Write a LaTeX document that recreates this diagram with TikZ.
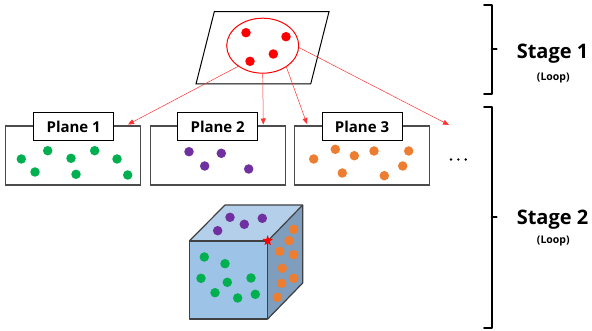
\documentclass[tikz,border=0pt]{standalone}
\usepackage{fontspec}
\setmainfont{Open Sans}
\usetikzlibrary{shapes.geometric,arrows.meta,calc}
\definecolor{dgreen}{HTML}{00B050}
\definecolor{dpurple}{HTML}{7030A0}
\definecolor{dorange}{HTML}{ED7D31}
\definecolor{cfront}{HTML}{9DC3E6}
\definecolor{ctop}{HTML}{B4CFEA}
\definecolor{cside}{HTML}{7F9DBC}
\begin{document}
\begin{tikzpicture}[x=1pt,y=-1pt,
  planebox/.style={draw=black!70,line width=1.1pt,minimum width=135pt,minimum height=59pt,inner sep=0pt},
  labelbox/.style={draw=black,line width=1pt,fill=white,minimum width=80pt,minimum height=28pt,inner sep=0pt,font=\bfseries\fontsize{15}{17}\selectfont},
  redarrow/.style={red!80,line width=0.5pt,-{Triangle[length=6pt,width=5pt]}},
  dot/.style={circle,inner sep=0pt,minimum size=9.5pt},
  gdot/.style={dot,fill=dgreen},
  pdot/.style={dot,fill=dpurple},
  odot/.style={dot,fill=dorange},
  rdot/.style={dot,fill=red},
  bracepath/.style={line width=2pt,line cap=round,line join=round},
  stagetext/.style={font=\bfseries\fontsize{20}{22}\selectfont},
  looptext/.style={font=\bfseries\fontsize{10.5}{12}\selectfont},
  cubeline/.style={draw=black!75,line width=1.2pt,line join=round}]
\useasboundingbox (0,0) rectangle (592,331);

% top plane
\draw[black,line width=1pt] (214.3,11.7) -- (329,11.7) -- (310.7,84) -- (196,84) -- cycle;
\node[draw=red,line width=1pt,ellipse,minimum width=72pt,minimum height=55pt,inner sep=0pt] (ell) at (262.7,45.7) {};
\node[rdot] (r1) at (246,32.7) {};
\node[rdot] (r2) at (286,36.7) {};
\node[rdot] (r3) at (273.3,54) {};
\node[rdot] (r4) at (250,61.3) {};

% plane boxes
\node[planebox] (p1) at (73.3,155.5) {};
\node[planebox] (p2) at (217.7,155.5) {};
\node[planebox] (p3) at (362,155.5) {};
\node[labelbox] (l1) at (73.7,126.5) {Plane 1};
\node[labelbox] (l2) at (217.7,126.5) {Plane 2};
\node[labelbox] (l3) at (362,126.5) {Plane 3};

\coordinate (t1) at (128,124.5);
\coordinate (t2) at (263.3,124.5);
\coordinate (t3) at (307,124);
\coordinate (t4) at (449,125);
\draw[redarrow] (ell.220) -- (t1);
\draw[redarrow] (ell.270) -- (t2);
\draw[redarrow] (ell.318) -- (t3);
\draw[redarrow] (ell.357) -- (t4);

% plane 1 dots
\foreach \x/\y [count=\i] in {21.3/159,47.7/150.7,71/158.3,94.7/150.7,117/159,35/172,76/174.3,127.7/175}
  \node[gdot] (g\i) at (\x,\y) {};
% plane 2 dots
\foreach \x/\y [count=\i] in {189/151.7,221.3/153.3,204.7/166,248.7/169}
  \node[pdot] (pp\i) at (\x,\y) {};
% plane 3 dots
\foreach \x/\y [count=\i] in {313.7/159,335.3/149.3,354.3/155.7,374/151,408.7/151,342.3/173,384.3/175.7,402.7/166}
  \node[odot] (o\i) at (\x,\y) {};
% ellipsis
\foreach \x [count=\i] in {451,458.3,465.7}
  \fill (\x,159.5) circle (1.3pt);

% cube
\fill[cfront] (189.3,241) rectangle (267.7,319);
\fill[ctop] (189.3,241) -- (225,205) -- (302.7,205) -- (267.7,241) -- cycle;
\fill[cside] (267.7,241) -- (302.7,205) -- (302.7,283) -- (267.7,319) -- cycle;
\draw[cubeline] (189.3,241) rectangle (267.7,319);
\draw[cubeline] (189.3,241) -- (225,205) -- (302.7,205) -- (302.7,283) -- (267.7,319);
\draw[cubeline] (267.7,241) -- (302.7,205);

\foreach \x/\y [count=\i] in {230/217.3,262.3/218.3,244.3/224.3,217.7/230.7}
  \node[pdot] (cp\i) at (\x,\y) {};
\foreach \x/\y [count=\i] in {204.3/257,225/263.7,201/278.3,227.3/282.3,251/278,215/292.7,237.7/298,255.3/294.3}
  \node[gdot] (cg\i) at (\x,\y) {};
\foreach \x/\y [count=\i] in {293.7/229.3,289/240.7,279.7/251.3,293.7/254.7,282.3/268.3,293.7/278.3,281.7/283.3,277.3/297.3}
  \node[odot] (co\i) at (\x,\y) {};
\node[star,star points=5,star point ratio=2.4,fill=red,inner sep=0pt,minimum size=11pt] (st) at (267.7,240.7) {};

% braces
\draw[bracepath] (484,5) -- (491.7,5) -- (491.7,94.3) -- (484,94.3);
\draw[bracepath] (491.7,49.3) -- (496.7,49.3);
\draw[bracepath] (484,106.7) -- (491.7,106.7) -- (491.7,327.7) -- (484,327.7);
\draw[bracepath] (491.7,217.3) -- (496.7,217.3);

\node[stagetext] (s1) at (552.5,53.5) {Stage 1};
\node[looptext] (lp1) at (553.3,78) {(Loop)};
\node[stagetext] (s2) at (552.5,220) {Stage 2};
\node[looptext] (lp2) at (553.3,241) {(Loop)};
\end{tikzpicture}
\end{document}
